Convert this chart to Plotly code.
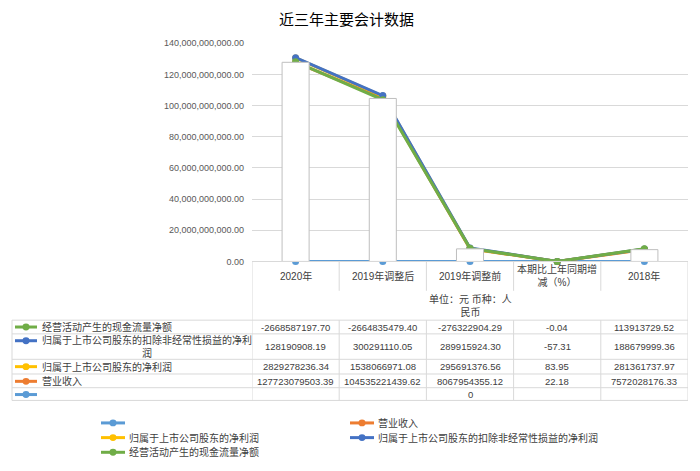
import numpy as np
import plotly.graph_objects as go

# ---------------- data ----------------
categories = ["2020年", "2019年调整后", "2019年调整前", "本期比上年同期增减（%）", "2018年"]
category_labels = ["2020年", "2019年调整后", "2019年调整前", "本期比上年同期增<br>减（%）", "2018年"]

series_names = ["", "营业收入", "归属于上市公司股东的净利润",
                "归属于上市公司股东的扣除非经常性损益的净利润", "经营活动产生的现金流量净额"]
blank_series = [0, 0, 0, 0, 0]
blank_table = ["", "", "0", "", ""]
revenue = [127723079503.39, 104535221439.62, 8067954355.12, 22.18, 7572028176.33]
net_profit = [2829278236.34, 1538066971.08, 295691376.56, 83.95, 281361737.97]
deducted_profit = [128190908.19, 300291110.05, 289915924.30, -57.31, 188679999.36]
op_cash = [-2668587197.70, -2664835479.40, -276322904.29, -0.04, 113913729.52]
series_colors = ["#5B9BD5", "#ED7D31", "#FFC000", "#4472C4", "#70AD47"]

title_text = "近三年主要会计数据"
unit_text = "单位：元 币种：人<br>民币"
y_max = 140000000000
y_step = 20000000000

W, H = 700, 471


def px(x):
    return x / W


def py(y):
    return 1 - y / H


all_series = [blank_series, revenue, net_profit, deducted_profit, op_cash]
stacked = np.cumsum(np.array(all_series, dtype=float), axis=0)

fig = go.Figure()

# stacked lines (drawn below the bars)
for name, vals, col in zip(series_names, stacked, series_colors):
    fig.add_trace(go.Scatter(
        x=categories, y=vals, name=name, mode="lines+markers",
        line=dict(color=col, width=3), marker=dict(color=col, size=7),
        cliponaxis=False, xaxis="x", yaxis="y", showlegend=False,
        hoverinfo="skip"))

# white bars on top (overlaying axis)
fig.add_trace(go.Bar(
    x=categories, y=revenue, yaxis="y2", xaxis="x", width=0.31,
    marker=dict(color="white", line=dict(color="#BFBFBF", width=1)),
    showlegend=False, hoverinfo="skip"))

grid = "#D9D9D9"
txt = "#404040"
font_cn = "Liberation Sans, Noto Sans CJK SC, sans-serif"

shapes = []
annotations = []


def hline(y, x0, x1, xref="paper"):
    shapes.append(dict(type="line", xref=xref, yref="paper", x0=x0, x1=x1,
                       y0=py(y), y1=py(y), line=dict(color=grid, width=1)))


def vline(x, y0, y1, xref="x"):
    shapes.append(dict(type="line", xref=xref, yref="paper", x0=x, x1=x,
                       y0=py(y0), y1=py(y1), line=dict(color=grid, width=1)))


def key(xc, yc, col, half=11):
    shapes.append(dict(type="line", xref="paper", yref="paper",
                       x0=px(xc - half), x1=px(xc + half), y0=py(yc), y1=py(yc),
                       line=dict(color=col, width=3)))
    r = 3.5
    shapes.append(dict(type="circle", xref="paper", yref="paper",
                       x0=px(xc - r), x1=px(xc + r), y0=py(yc + r), y1=py(yc - r),
                       fillcolor=col, line=dict(color=col, width=0)))


# table grid
row_lines = [322, 336, 362, 377, 391, 404]
for y in row_lines:
    hline(y, px(12), px(688))
ncat = len(categories)
# header separators
for i in range(ncat - 1):
    vline(i + 0.5, 262, 292)
    vline(i + 0.5, 322, 404)
vline(-0.5, 262, 404)
vline(ncat - 0.5, 262, 404)
vline(px(12), 322, 404, xref="paper")

# header labels
for i, lab in enumerate(category_labels):
    annotations.append(dict(x=i, xref="x", y=py(276.5), yref="paper", text=lab,
                            showarrow=False, xanchor="center", yanchor="middle",
                            font=dict(size=10, color=txt, family=font_cn)))
annotations.append(dict(x=2, xref="x", y=py(307.5), yref="paper", text=unit_text,
                        showarrow=False, xanchor="center", yanchor="middle",
                        font=dict(size=10, color=txt, family=font_cn)))

# table rows (reverse series order)
row_centers = [329, 349, 369.5, 384.5, 397.5]
row_labels = ["经营活动产生的现金流量净额", "归属于上市公司股东的扣除非经常性损益的净利<br>润",
              "归属于上市公司股东的净利润", "营业收入", ""]
row_values = [op_cash, deducted_profit, net_profit, revenue, None]
row_colors = [series_colors[4], series_colors[3], series_colors[2], series_colors[1], series_colors[0]]
key_y = [329, 343, 369.5, 384.5, 398]
for r, (yc, lab, vals, col, ky) in enumerate(zip(row_centers, row_labels, row_values, row_colors, key_y)):
    key(26, ky, col)
    if lab:
        annotations.append(dict(x=px(40), xref="paper", y=py(yc), yref="paper", text=lab,
                                showarrow=False, xanchor="left", yanchor="middle", align="center",
                                font=dict(size=10, color=txt, family=font_cn)))
    cells = [f"{v:.2f}" for v in vals] if vals is not None else blank_table
    for i, c in enumerate(cells):
        if c == "":
            continue
        annotations.append(dict(x=i, xref="x", y=py(yc), yref="paper", text=c,
                                showarrow=False, xanchor="center", yanchor="middle",
                                font=dict(size=9.5, color=txt, family=font_cn)))

# legend (manual)
legend_pos = [(113, 427, 127), (362, 427, 376), (113, 442, 127), (362, 442, 376), (113, 457, 127)]
for (kx, ky, tx), name, col in zip(legend_pos, series_names, series_colors):
    key(kx, ky, col, half=12)
    if name:
        annotations.append(dict(x=px(tx), xref="paper", y=py(ky), yref="paper", text=name,
                                showarrow=False, xanchor="left", yanchor="middle",
                                font=dict(size=10, color=txt, family=font_cn)))

# title
annotations.append(dict(x=px(346), xref="paper", y=py(14), yref="paper", text=title_text,
                        showarrow=False, xanchor="center", yanchor="middle",
                        font=dict(size=15, color="#000000", family="Noto Sans CJK SC")))

fig.update_layout(
    width=W, height=H, margin=dict(l=0, r=0, t=0, b=0),
    paper_bgcolor="white", plot_bgcolor="white",
    barmode="overlay",
    xaxis=dict(domain=[px(252), px(688)], type="category", range=[-0.5, ncat - 0.5],
               showticklabels=False, showgrid=False, showline=True, linecolor=grid,
               linewidth=1, ticks="", zeroline=False, fixedrange=True),
    yaxis=dict(domain=[py(262), py(39)], range=[0, y_max], dtick=y_step, tick0=0,
               tickformat=",.2f", showgrid=True, gridcolor=grid, gridwidth=1,
               zeroline=False, showline=False, ticks="", ticklabelstandoff=7,
               tickfont=dict(size=9, color="#595959", family="Liberation Sans")),
    yaxis2=dict(overlaying="y", range=[0, y_max], visible=False, showgrid=False,
                zeroline=False),
    shapes=shapes, annotations=annotations, showlegend=False,
)

fig.write_html("out.html", config={"displayModeBar": False},
               post_script="document.body.style.margin='0px';document.body.style.overflow='hidden';")
